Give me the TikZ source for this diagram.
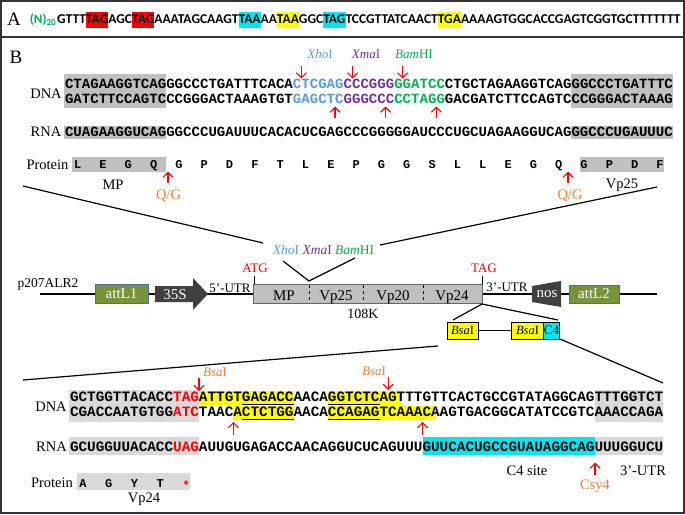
\documentclass[tikz,border=0pt]{standalone}
\usepackage{fontspec}
\setmainfont{Liberation Serif}
\newfontfamily\monofam{Liberation Mono}
\newfontfamily\calfam{Carlito}
\usetikzlibrary{arrows.meta}
\definecolor{xblue}{RGB}{91,155,213}
\definecolor{xpurple}{RGB}{112,48,160}
\definecolor{xgreen}{RGB}{0,176,80}
\definecolor{xorange}{RGB}{237,125,49}
\definecolor{xred}{RGB}{255,0,0}
\definecolor{xcyan}{RGB}{0,230,240}
\definecolor{xyellow}{RGB}{255,255,0}
\definecolor{gtop}{RGB}{192,192,192}
\definecolor{gbot}{RGB}{217,217,217}
\definecolor{olive}{RGB}{119,147,60}
\definecolor{darkbox}{RGB}{64,64,64}
\definecolor{genegray}{RGB}{191,191,191}
\newcommand\hlbox[2]{{\setlength{\fboxsep}{0pt}\colorbox{#1}{\rule[-4.5pt]{0pt}{16pt}#2}}}
\newcommand\enz[2]{\textit{#1}#2}
\tikzset{
  seqtop/.style={anchor=base west,inner sep=0,outer sep=0,font=\monofam\bfseries\fontsize{14.07}{16}\selectfont},
  seqbot/.style={anchor=base west,inner sep=0,outer sep=0,font=\monofam\bfseries\fontsize{14.33}{16}\selectfont},
  aa/.style={anchor=base,inner sep=0,font=\monofam\bfseries\fontsize{12}{14}\selectfont},
  lbl/.style={anchor=base,inner sep=0,font=\fontsize{14.5}{16}\selectfont},
  mlbl/.style={anchor=base,inner sep=0,font=\fontsize{13}{15}\selectfont},
  elbl/.style={anchor=base,inner sep=0,font=\fontsize{13}{15}\selectfont},
  rarrow/.style={xred,line width=1.1pt,-{Straight Barb[length=5pt,width=10pt]}},
  attbox/.style={draw={rgb,255:red,79;green,109;blue,150},line width=0.8pt,fill=olive,text=white,inner sep=0,minimum width=53pt,minimum height=19pt,font=\fontsize{15}{17}\selectfont},
  bsabox/.style={draw=black,line width=0.8pt,fill=xyellow,inner sep=0,minimum height=17pt,font=\fontsize{12.5}{14}\selectfont},
  conn/.style={black,line width=1.2pt}
}
\begin{document}
\begin{tikzpicture}[x=1pt,y=-1pt]
\useasboundingbox (0,0) rectangle (685,514);
% frame
\draw[line width=1.2pt,black!80] (1,1) rectangle (684,513);
\draw[line width=1.2pt,black!80] (1,37) -- (684,37);
% panel A
\node[anchor=base,inner sep=0,font=\fontsize{19}{21}\selectfont] (labA) at (14,25) {A};
\node[anchor=base east,inner sep=0,font=\calfam\bfseries\fontsize{13}{15}\selectfont,text=xgreen] (nn) at (56.5,23.5) {(N)\textsubscript{20}};
\node[anchor=base west,inner sep=0,font=\calfam\bfseries\fontsize{13.5}{15}\selectfont] (seqA) at (57,23.5) {GTTT\hlbox{xred}{TAG}AGC\hlbox{xred}{TAG}AAATAGCAAGT\hlbox{xcyan}{TAA}AA\hlbox{xyellow}{TAA}GGC\hlbox{xcyan}{TAG}TCCGTTATCAACT\hlbox{xyellow}{TGA}AAAAGTGGCACCGAGTCGGTGCTTTTTTT};
% panel B label
\node[anchor=base,inner sep=0,font=\fontsize{19}{21}\selectfont] (labB) at (16,63) {B};
% ---- top DNA
\fill[gtop] (64,74) rectangle ({65+12*8.44},107.5);
\fill[gtop] ({65+60*8.44},74) rectangle ({65+72*8.44},107.5);
\node[seqtop] (dna1) at (65,88.5) {CTAGAAGGTCAGGGCCCTGATTTCACA\textcolor{xblue}{CTCGAG}\textcolor{xpurple}{CCCGGG}\textcolor{xgreen}{GGATCC}CTGCTAGAAGGTCAGGGCCCTGATTTC};
\node[seqtop] (dna2) at (65,103) {GATCTTCCAGTCCCGGGACTAAAGTGT\textcolor{xblue}{GAGCTC}\textcolor{xpurple}{GGGCCC}\textcolor{xgreen}{CCTAGG}GACGATCTTCCAGTCCCGGGACTAAAG};
\node[lbl] (dnaL) at (46,98) {DNA};
\node[elbl,text=xblue] (xho) at (320,58) {\enz{Xho}{I}};
\node[elbl,text=xpurple] (xma) at (366,58) {\enz{Xma}{I}};
\node[elbl,text=xgreen] (bam) at (414,58) {\enz{Bam}{HI}};
\draw[rarrow] (301.4,66) -- (301.4,78.5);
\draw[rarrow] (352.6,66) -- (352.6,78.5);
\draw[rarrow] (402.6,66) -- (402.6,78.5);
\draw[rarrow] (335,118) -- (335,106.5);
\draw[rarrow] (385.7,118) -- (385.7,106.5);
\draw[rarrow] (436.4,118) -- (436.4,106.5);
% ---- top RNA
\fill[gtop] (64,125.5) rectangle ({65+12*8.44},138.5);
\fill[gtop] ({65+60*8.44},125.5) rectangle ({65+72*8.44},138.5);
\node[seqtop] (rna1) at (65,136) {CUAGAAGGUCAGGGCCCUGAUUUCACACUCGAGCCCGGGGGAUCCCUGCUAGAAGGUCAGGGCCCUGAUUUC};
\node[lbl] (rnaL) at (46,136) {RNA};
% ---- top protein
\fill[gtop] (72,157) rectangle (166,172);
\fill[gtop] (580,157) rectangle (664,172);
\node[lbl] (protL) at (47.5,169.5) {Protein};
\foreach \a [count=\k from 0] in {L,E,G,Q,G,P,D,F,T,L,E,P,G,G,S,L,L,E,G,Q,G,P,D,F}
  \node[aa] (aa\k) at ({65+(3*\k+1.5)*8.44},168.5) {\a};
\draw[rarrow] (168,183) -- (168,171.5);
\draw[rarrow] (568,183) -- (568,171.5);
\node[lbl,text=xorange] (qg1) at (168.5,199.5) {Q/G};
\node[lbl,text=xorange] (qg2) at (570,199.5) {Q/G};
\node[lbl] (mpL) at (113,189.5) {MP};
\node[lbl] (vp25L) at (622,188) {Vp25};
% zoom lines
\coordinate (zl1) at (23,186); \coordinate (zl2) at (263,243);
\coordinate (zr1) at (657,187); \coordinate (zr2) at (380,245);
\draw[conn] (zl1) -- (zl2);
\draw[conn] (zr1) -- (zr2);
% ---- construct
\node[anchor=base,inner sep=0,font=\fontsize{13.5}{15}\selectfont] (sites) at (323.5,254) {\textcolor{xblue}{\enz{Xho}{I}} \textcolor{xpurple}{\enz{Xma}{I}} \textcolor{xgreen}{\enz{Bam}{HI}}};
\coordinate (v1) at (283,261); \coordinate (v2) at (309,281); \coordinate (v3) at (355,258);
\draw[conn] (v1) -- (v2) -- (v3);
\node[anchor=base,inner sep=0,font=\fontsize{13.5}{15}\selectfont] (pname) at (48,287) {p207ALR2};
\coordinate (bbL) at (40,294); \coordinate (bbR) at (657,294);
\draw[conn,line width=1.4pt] (bbL) -- (bbR);
\node[attbox] (attL1) at (121.5,294) {attL1};
\fill[darkbox] (155,286) -- (193,286) -- (193,278) -- (208,294) -- (193,310) -- (193,302) -- (155,302) -- cycle;
\node[inner sep=0,text=white,font=\fontsize{15}{17}\selectfont] (p35s) at (175,294.5) {35S};
\node[mlbl] (utr5) at (230,292) {5’-UTR};
\node[mlbl,text=xred] (atg) at (255,272) {ATG};
\draw[line width=1pt] (254,276) -- (254,284);
\node[draw=black!60,line width=0.8pt,fill=genegray,inner sep=0,minimum width=229pt,minimum height=19pt] (gene) at (367.5,293.5) {};
\foreach \xx in {309,363,423}
  \draw[line width=1pt,dash pattern=on 3pt off 3pt] (\xx,285) -- (\xx,302);
\node[anchor=base,inner sep=0,font=\fontsize{15}{17}\selectfont] (gMP) at (284,300) {MP};
\node[anchor=base,inner sep=0,font=\fontsize{15}{17}\selectfont] (g25) at (336,300) {Vp25};
\node[anchor=base,inner sep=0,font=\fontsize{15}{17}\selectfont] (g20) at (393,300) {Vp20};
\node[anchor=base,inner sep=0,font=\fontsize{15}{17}\selectfont] (g24) at (452,300) {Vp24};
\node[anchor=base,inner sep=0,font=\fontsize{14}{16}\selectfont] (k108) at (363,318) {108K};
\node[mlbl,text=xred] (tag) at (484,272) {TAG};
\draw[line width=1pt] (482,276) -- (482,284);
\node[mlbl] (utr3) at (507,291) {3’-UTR};
\fill[darkbox] (532,286) -- (561,281) -- (561,307) -- (532,302) -- cycle;
\node[inner sep=0,text=white,font=\fontsize{15}{17}\selectfont] (nos) at (547,294) {nos};
\node[attbox,minimum width=50pt,minimum height=18pt] (attL2) at (594,294) {attL2};
% BsaI cassette
\coordinate (gb) at (482,304);
\coordinate (cl) at (453,320); \coordinate (cr) at (558,320);
\draw[conn] (cl) -- (gb) -- (cr);
\node[bsabox,minimum width=31pt] (bsa1) at (462.5,330.5) {\enz{Bsa}{I}};
\node[bsabox,minimum width=32pt] (bsa2) at (527.5,330.5) {\enz{Bsa}{I}};
\node[bsabox,fill=xcyan,minimum width=16pt,font=\fontsize{13}{15}\selectfont] (c4) at (551.5,330.5) {C4};
\draw[conn] (bsa1.east) -- (bsa2.west);
\coordinate (dl1) at (438,346); \coordinate (dl2) at (23,380);
\coordinate (dr1) at (560,339); \coordinate (dr2) at (663,383);
\draw[conn] (dl1) -- (dl2);
\draw[conn] (dr1) -- (dr2);
% ---- bottom DNA
\fill[gbot] (69,390) rectangle (199,422);
\fill[gbot] (594.6,390) rectangle (663,422);
\fill[xyellow] (199,391) rectangle (293.6,404.8);
\fill[xyellow] (328,391) rectangle (401.4,404.8);
\fill[xyellow] (233.4,405.6) rectangle (293.6,419.8);
\fill[xyellow] (328,405.6) rectangle (436,419.8);
\node[seqbot] (bdna1) at (70,401.7) {GCTGGTTACACC\textcolor{xred}{TAG}ATTGTGAGACCAACAGGTCTCAGTTTGTTCACTGCCGTATAGGCAGTTTGGTCT};
\node[seqbot] (bdna2) at (70,416.7) {CGACCAATGTGG\textcolor{xred}{ATC}TAACACTCTGGAACACCAGAGTCAAACAAGTGACGGCATATCCGTCAAACCAGA};
\draw[line width=1pt] (242,404.2) -- (293.6,404.2);
\draw[line width=1pt] (328,404.2) -- (379.6,404.2);
\draw[line width=1pt] (242,419.2) -- (293.6,419.2);
\draw[line width=1pt] (328,419.2) -- (379.6,419.2);
\node[lbl] (bdnaL) at (51,411.5) {DNA};
\node[elbl,text=xorange] (bsaL1) at (215,376) {\enz{Bsa}{I}};
\node[elbl,text=xorange] (bsaL2) at (374,375) {\enz{Bsa}{I}};
\draw[rarrow] (199,378) -- (199,391);
\draw[rarrow] (388.2,377) -- (388.2,390);
\draw[rarrow] (233.4,434.5) -- (233.4,422);
\draw[rarrow] (422.6,434.5) -- (422.6,422);
% ---- bottom RNA
\fill[gbot] (69,437) rectangle (199,455);
\fill[xcyan] (422.6,437) rectangle (594.6,455);
\fill[gbot] (594.6,437) rectangle (663,455);
\node[seqbot] (brna) at (70,451.5) {GCUGGUUACACC\textcolor{xred}{UAG}AUUGUGAGACCAACAGGUCUCAGUUUGUUCACUGCCGUAUAGGCAGUUUGGUCU};
\node[lbl] (brnaL) at (51.5,451.5) {RNA};
\node[lbl] (c4site) at (527,475) {C4 site};
\node[lbl] (utr3b) at (643,475) {3’-UTR};
\draw[rarrow] (595,475) -- (595,462.5);
\node[lbl,text=xorange] (csy4) at (595,489) {Csy4};
% ---- bottom protein
\fill[gbot] (77,473) rectangle (190,490);
\node[lbl] (bprotL) at (52,487) {Protein};
\foreach \a [count=\k from 0] in {A,G,Y,T}
  \node[aa] (baa\k) at ({70+(3*\k+1.5)*8.6},487) {\a};
\node[aa,text=xred] (bstop) at ({70+13.5*8.6},489) {*};
\node[lbl] (vp24L) at (144,502) {Vp24};
\end{tikzpicture}
\end{document}
